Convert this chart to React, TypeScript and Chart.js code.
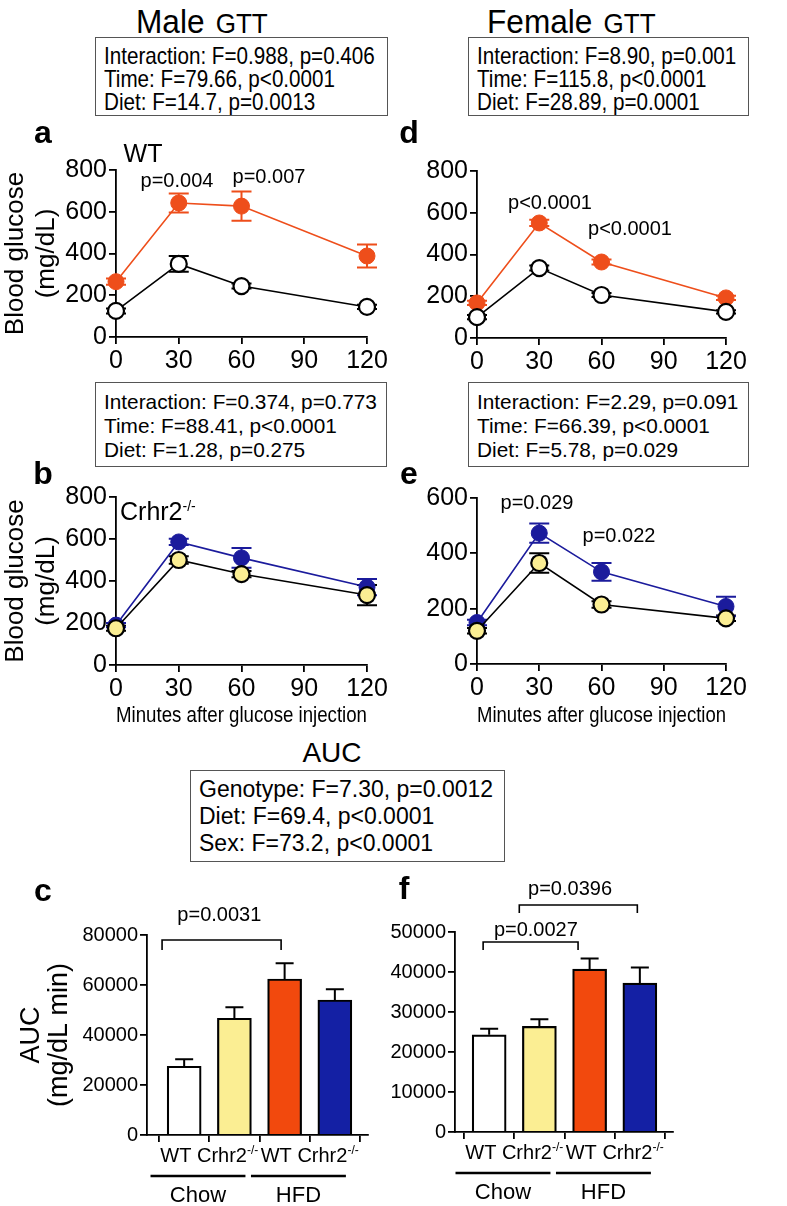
import React, { useEffect, useRef } from "react";
import { Chart, registerables } from "chart.js";
Chart.register(...registerables);

const FONT = "'Liberation Sans', Arial, Helvetica, sans-serif";

// ---------- data ----------
const timePoints = [0, 30, 60, 120];

// a: male WT (Chow vs HFD)
const maleWtChow = [125, 350, 244, 144];
const maleWtChowErr = [12, 38, 12, 10];
const maleWtHfd = [265, 642, 627, 388];
const maleWtHfdErr = [15, 45, 70, 55];
// b: male Crhr2-/-
const maleKoChow = [175, 500, 433, 333];
const maleKoChowErr = [12, 18, 15, 48];
const maleKoHfd = [190, 586, 510, 371];
const maleKoHfdErr = [10, 15, 47, 39];
// d: female WT
const femWtChow = [100, 335, 206, 125];
const femWtChowErr = [10, 12, 10, 8];
const femWtHfd = [168, 551, 364, 192];
const femWtHfdErr = [10, 15, 12, 10];
// e: female Crhr2-/-
const femKoChow = [120, 365, 215, 165];
const femKoChowErr = [10, 35, 12, 10];
const femKoHfd = [150, 473, 333, 208];
const femKoHfdErr = [10, 35, 32, 35];

// c, f: AUC
const aucLabels = ["WT", "Crhr2", "WT", "Crhr2"];
const aucSup = ["", "-/-", "", "-/-"];
const aucPos = [1, 2, 3, 4];
const aucDiet = ["Chow", "HFD"];
const maleAuc = [27500, 46700, 62400, 54000];
const maleAucErr = [2800, 4400, 6300, 4300];
const femAuc = [24300, 26400, 40700, 37200];
const femAucErr = [1500, 1800, 2700, 3900];

// ---------- colours ----------
const ORANGE = "#EE4E1B";
const BLUE = "#1B1B9C";
const YELLOW = "#FBEE93";
const BAR_COLORS = ["#FFFFFF", "#FBEE93", "#F2490D", "#1420A4"];

const gridOpt = {
  display: true,
  drawOnChartArea: false,
  drawTicks: true,
  tickLength: 7,
  color: "#000",
  lineWidth: 1.8,
};
const borderOpt = { display: true, color: "#000", width: 1.8 };

const errorBarPlugin = {
  id: "errbarsLine",
  beforeDatasetsDraw(chart: any) {
    const ctx = chart.ctx;
    const xs = chart.scales.x;
    const ys = chart.scales.y;
    chart.data.datasets.forEach((ds: any) => {
      if (!ds.errors) return;
      ctx.save();
      ctx.strokeStyle = ds.errColor;
      ctx.lineWidth = 2;
      ds.data.forEach((p: any, i: number) => {
        const px = xs.getPixelForValue(p.x);
        const yt = ys.getPixelForValue(p.y + ds.errors[i]);
        const yb = ys.getPixelForValue(p.y - ds.errors[i]);
        ctx.beginPath();
        ctx.moveTo(px, yt);
        ctx.lineTo(px, yb);
        ctx.moveTo(px - 10, yt);
        ctx.lineTo(px + 10, yt);
        ctx.moveTo(px - 10, yb);
        ctx.lineTo(px + 10, yb);
        ctx.stroke();
      });
      ctx.restore();
    });
  },
};

type Series = {
  values: number[];
  err: number[];
  line: string;
  fill: string;
  edge: string;
  edgeWidth: number;
  errColor: string;
};

function lineConfig(p: {
  series: Series[];
  yMax: number;
  yTitle?: string[];
  xTitle?: string;
  xTitleAlign?: string;
  yWidth: number;
  xHeight: number;
  padTop: number;
  padRight: number;
}): any {
  return {
    type: "line",
    data: {
      datasets: p.series.map((s) => ({
        data: timePoints.map((t, i) => ({ x: t, y: s.values[i] })),
        errors: s.err,
        errColor: s.errColor,
        borderColor: s.line,
        borderWidth: 1.6,
        tension: 0,
        pointRadius: 8,
        pointHoverRadius: 8,
        pointBackgroundColor: s.fill,
        pointBorderColor: s.edge,
        pointBorderWidth: s.edgeWidth,
        clip: false,
      })),
    },
    options: {
      animation: false,
      responsive: false,
      devicePixelRatio: 1,
      events: [],
      layout: { padding: { top: p.padTop, right: p.padRight, left: 0, bottom: 0 } },
      plugins: { legend: { display: false }, tooltip: { enabled: false } },
      scales: {
        x: {
          type: "linear",
          min: 0,
          max: 120,
          ticks: {
            stepSize: 30,
            color: "#000",
            font: { family: FONT, size: 25 },
            padding: 2,
            maxRotation: 0,
            autoSkip: false,
          },
          grid: gridOpt,
          border: borderOpt,
          title: p.xTitle
            ? {
                display: true,
                text: p.xTitle,
                align: p.xTitleAlign || "center",
                color: "#000",
                font: { family: FONT, size: 22.6, lineHeight: 1.2 },
                padding: { top: 0, bottom: 1 },
              }
            : { display: false },
          afterFit: (s: any) => {
            s.height = p.xHeight;
          },
        },
        y: {
          type: "linear",
          min: 0,
          max: p.yMax,
          ticks: {
            stepSize: 200,
            color: "#000",
            font: { family: FONT, size: 25 },
            padding: 2,
            callback: (v: any) => String(v),
          },
          grid: gridOpt,
          border: borderOpt,
          title: p.yTitle
            ? {
                display: true,
                text: p.yTitle,
                color: "#000",
                font: { family: FONT, size: 26, lineHeight: 1.2 },
                padding: { top: 0, bottom: 0 },
              }
            : { display: false },
          afterFit: (s: any) => {
            s.width = p.yWidth;
          },
        },
      },
    },
    plugins: [errorBarPlugin],
  };
}

type Bracket = { x1: number; x2: number; y: number; leg: number; text: string; tx: number; ty: number };

function barConfig(p: {
  values: number[];
  err: number[];
  yMax: number;
  yStep: number;
  yTitle?: string[];
  yWidth: number;
  xHeight: number;
  padTop: number;
  padRight: number;
  xMin: number;
  xMax: number;
  brackets: Bracket[];
}): any {
  const annot = {
    id: "barAnnot",
    afterDatasetsDraw(chart: any) {
      const ctx = chart.ctx;
      const xs = chart.scales.x;
      const ys = chart.scales.y;
      // error bars (upper only)
      ctx.save();
      ctx.strokeStyle = "#000";
      ctx.lineWidth = 2;
      p.values.forEach((v, i) => {
        const px = xs.getPixelForValue(aucPos[i]);
        const y0 = ys.getPixelForValue(v);
        const y1 = ys.getPixelForValue(v + p.err[i]);
        ctx.beginPath();
        ctx.moveTo(px, y0);
        ctx.lineTo(px, y1);
        ctx.moveTo(px - 9, y1);
        ctx.lineTo(px + 9, y1);
        ctx.stroke();
      });
      // brackets
      ctx.lineWidth = 1.6;
      ctx.fillStyle = "#000";
      ctx.font = `20px ${FONT}`;
      ctx.textAlign = "center";
      ctx.textBaseline = "middle";
      p.brackets.forEach((b) => {
        const xa = xs.getPixelForValue(b.x1);
        const xb = xs.getPixelForValue(b.x2);
        const yt = ys.getPixelForValue(b.y);
        const yl = ys.getPixelForValue(b.leg);
        ctx.beginPath();
        ctx.moveTo(xa, yl);
        ctx.lineTo(xa, yt);
        ctx.lineTo(xb, yt);
        ctx.lineTo(xb, yl);
        ctx.stroke();
        ctx.fillText(b.text, xs.getPixelForValue(b.tx), ys.getPixelForValue(b.ty));
      });
      // category labels with superscript
      const base = ys.getPixelForValue(0);
      for (let g = 0; g < 2; g++) {
        const i0 = g * 2;
        const i1 = g * 2 + 1;
        const mid = (xs.getPixelForValue(aucPos[i0]) + xs.getPixelForValue(aucPos[i1])) / 2;
        const parts: { t: string; sup: boolean }[] = [
          { t: aucLabels[i0], sup: false },
          { t: aucSup[i0], sup: true },
          { t: " " + aucLabels[i1], sup: false },
          { t: aucSup[i1], sup: true },
        ];
        let total = 0;
        parts.forEach((pt) => {
          ctx.font = pt.sup ? `12px ${FONT}` : `20px ${FONT}`;
          total += ctx.measureText(pt.t).width;
        });
        let cx = mid - total / 2;
        ctx.textAlign = "left";
        ctx.textBaseline = "alphabetic";
        parts.forEach((pt) => {
          ctx.font = pt.sup ? `12px ${FONT}` : `20px ${FONT}`;
          ctx.fillText(pt.t, cx, base + 27 - (pt.sup ? 8 : 0));
          cx += ctx.measureText(pt.t).width;
        });
        // diet group line and label
        const gx1 = xs.getPixelForValue(aucPos[i0] - 0.67);
        const gx2 = xs.getPixelForValue(aucPos[i1] + 0.22);
        ctx.lineWidth = 2.5;
        ctx.beginPath();
        ctx.moveTo(gx1, base + 41);
        ctx.lineTo(gx2, base + 41);
        ctx.stroke();
        ctx.font = `22px ${FONT}`;
        ctx.textAlign = "center";
        ctx.textBaseline = "middle";
        ctx.fillText(aucDiet[g], (gx1 + gx2) / 2, base + 61);
      }
      ctx.restore();
    },
  };
  return {
    type: "bar",
    data: {
      datasets: [
        {
          data: aucPos.map((x, i) => ({ x, y: p.values[i] })),
          backgroundColor: BAR_COLORS,
          borderColor: "#000",
          borderWidth: 2.2,
          borderSkipped: "bottom",
          barThickness: 34,
        },
      ],
    },
    options: {
      animation: false,
      responsive: false,
      devicePixelRatio: 1,
      events: [],
      layout: { padding: { top: p.padTop, right: p.padRight, left: 0, bottom: 0 } },
      plugins: { legend: { display: false }, tooltip: { enabled: false } },
      scales: {
        x: {
          type: "linear",
          min: p.xMin,
          max: p.xMax,
          offset: false,
          ticks: { display: false },
          afterBuildTicks: (s: any) => {
            s.ticks = aucPos.map((v) => ({ value: v }));
          },
          grid: gridOpt,
          border: borderOpt,
          afterFit: (s: any) => {
            s.height = p.xHeight;
          },
        },
        y: {
          type: "linear",
          min: 0,
          max: p.yMax,
          ticks: {
            stepSize: p.yStep,
            color: "#000",
            font: { family: FONT, size: 20 },
            padding: 2,
            callback: (v: any) => String(v),
          },
          grid: gridOpt,
          border: borderOpt,
          title: p.yTitle
            ? {
                display: true,
                text: p.yTitle,
                color: "#000",
                font: { family: FONT, size: 27, lineHeight: 1.05 },
                padding: { top: 17, bottom: 0 },
              }
            : { display: false },
          afterFit: (s: any) => {
            s.width = p.yWidth;
          },
        },
      },
    },
    plugins: [annot],
  };
}

function ChartBox(props: { left: number; top: number; width: number; height: number; build: () => any }) {
  const ref = useRef<HTMLCanvasElement | null>(null);
  useEffect(() => {
    const chart = new Chart(ref.current as HTMLCanvasElement, props.build());
    return () => chart.destroy();
  }, []);
  return (
    <canvas
      ref={ref}
      width={props.width}
      height={props.height}
      style={{ position: "absolute", left: props.left, top: props.top, width: props.width, height: props.height }}
    />
  );
}

function T(props: { x: number; y: number; size: number; bold?: boolean; sx?: number; children: any }) {
  return (
    <div
      style={{
        position: "absolute",
        left: props.x,
        top: props.y,
        transform: `translate(-50%,-50%) scaleX(${props.sx ?? 1})`,
        fontFamily: FONT,
        fontSize: props.size,
        fontWeight: props.bold ? 700 : 400,
        whiteSpace: "nowrap",
        lineHeight: 1,
        color: "#000",
      }}
    >
      {props.children}
    </div>
  );
}

function Box(props: {
  left: number;
  top: number;
  width: number;
  height: number;
  lines: string[];
  size: number;
  lh: number;
  padTop: number;
  padLeft: number;
  sx?: number;
}) {
  return (
    <div
      style={{
        position: "absolute",
        left: props.left,
        top: props.top,
        width: props.width,
        height: props.height,
        border: "1.3px solid #555",
        boxSizing: "border-box",
        fontFamily: FONT,
        fontSize: props.size,
        lineHeight: props.lh + "px",
        paddingTop: props.padTop,
        paddingLeft: props.padLeft,
        color: "#000",
        background: "#fff",
      }}
    >
      {props.lines.map((l, i) => (
        <div
          key={i}
          style={{ whiteSpace: "nowrap", transform: `scaleX(${props.sx ?? 1})`, transformOrigin: "left center" }}
        >
          {l}
        </div>
      ))}
    </div>
  );
}

const chowOpen = (v: number[], e: number[]): Series => ({
  values: v, err: e, line: "#000", fill: "#fff", edge: "#000", edgeWidth: 2.2, errColor: "#000",
});
const hfdOrange = (v: number[], e: number[]): Series => ({
  values: v, err: e, line: ORANGE, fill: ORANGE, edge: ORANGE, edgeWidth: 1, errColor: ORANGE,
});
const chowYellow = (v: number[], e: number[]): Series => ({
  values: v, err: e, line: "#000", fill: YELLOW, edge: "#000", edgeWidth: 2.2, errColor: "#000",
});
const hfdBlue = (v: number[], e: number[]): Series => ({
  values: v, err: e, line: BLUE, fill: BLUE, edge: BLUE, edgeWidth: 1, errColor: BLUE,
});

const titleStyle: any = {
  position: "absolute",
  top: 4,
  fontFamily: FONT,
  fontSize: 34,
  whiteSpace: "nowrap",
  transform: "scaleX(0.93)",
  transformOrigin: "left top",
  lineHeight: 1,
};

export default function App() {
  const crhr = (
    <span>
      Crhr2<sup style={{ fontSize: 14, verticalAlign: 9 }}>-/-</sup>
    </span>
  );
  return (
    <div style={{ position: "absolute", left: 0, top: 0, width: 787, height: 1206, background: "#fff", overflow: "hidden" }}>
      {/* a */}
      <ChartBox
        left={0} top={140} width={390} height={240}
        build={() =>
          lineConfig({
            series: [chowOpen(maleWtChow, maleWtChowErr), hfdOrange(maleWtHfd, maleWtHfdErr)],
            yMax: 800, yTitle: ["Blood glucose", "(mg/dL)"], yWidth: 116, xHeight: 43, padTop: 30, padRight: 23,
          })
        }
      />
      {/* d */}
      <ChartBox
        left={390} top={140} width={397} height={240}
        build={() =>
          lineConfig({
            series: [chowOpen(femWtChow, femWtChowErr), hfdOrange(femWtHfd, femWtHfdErr)],
            yMax: 800, yWidth: 87, xHeight: 42, padTop: 31, padRight: 61,
          })
        }
      />
      {/* b */}
      <ChartBox
        left={0} top={480} width={390} height={250}
        build={() =>
          lineConfig({
            series: [chowYellow(maleKoChow, maleKoChowErr), hfdBlue(maleKoHfd, maleKoHfdErr)],
            yMax: 800, yTitle: ["Blood glucose", "(mg/dL)"], xTitle: "Minutes after glucose injection",
            xTitleAlign: "center", yWidth: 116, xHeight: 65, padTop: 17, padRight: 23,
          })
        }
      />
      {/* e */}
      <ChartBox
        left={390} top={480} width={397} height={250}
        build={() =>
          lineConfig({
            series: [chowYellow(femKoChow, femKoChowErr), hfdBlue(femKoHfd, femKoHfdErr)],
            yMax: 600, xTitle: "Minutes after glucose injection", xTitleAlign: "start",
            yWidth: 87, xHeight: 66, padTop: 18, padRight: 61,
          })
        }
      />
      {/* c */}
      <ChartBox
        left={0} top={860} width={390} height={346}
        build={() =>
          barConfig({
            values: maleAuc, err: maleAucErr, yMax: 80000, yStep: 20000, yTitle: ["AUC", "(mg/dL min)"],
            yWidth: 147, xHeight: 71, padTop: 75, padRight: 22, xMin: 0.26, xMax: 4.66,
            brackets: [{ x1: 0.56, x2: 2.93, y: 78000, leg: 74000, text: "p=0.0031", tx: 1.7, ty: 88000 }],
          })
        }
      />
      {/* f */}
      <ChartBox
        left={390} top={860} width={397} height={346}
        build={() =>
          barConfig({
            values: femAuc, err: femAucErr, yMax: 50000, yStep: 10000,
            yWidth: 65, xHeight: 74, padTop: 72, padRight: 114, xMin: 0.32, xMax: 4.66,
            brackets: [
              { x1: 0.88, x2: 2.77, y: 47500, leg: 45500, text: "p=0.0027", tx: 1.93, ty: 50500 },
              { x1: 1.6, x2: 3.95, y: 56750, leg: 54750, text: "p=0.0396", tx: 2.61, ty: 60750 },
            ],
          })
        }
      />

      {/* titles */}
      <div style={{ ...titleStyle, left: 136 }}>
        <span>Male</span>
        <span style={{ marginLeft: 12, fontSize: 28 }}>GTT</span>
      </div>
      <div style={{ ...titleStyle, left: 487 }}>
        <span>Female</span>
        <span style={{ marginLeft: 12, fontSize: 28 }}>GTT</span>
      </div>

      <Box left={95} top={37} width={293} height={79} size={24} lh={23} padTop={6} padLeft={8} sx={0.86}
        lines={["Interaction: F=0.988, p=0.406", "Time: F=79.66, p<0.0001", "Diet: F=14.7, p=0.0013"]} />
      <Box left={468} top={37} width={281} height={79} size={24} lh={23} padTop={6} padLeft={8} sx={0.86}
        lines={["Interaction: F=8.90, p=0.001", "Time: F=115.8, p<0.0001", "Diet: F=28.89, p=0.0001"]} />
      <Box left={95} top={382} width={292} height={85} size={20.8} lh={24} padTop={7} padLeft={8}
        lines={["Interaction: F=0.374, p=0.773", "Time: F=88.41, p<0.0001", "Diet: F=1.28, p=0.275"]} />
      <Box left={468} top={382} width={281} height={85} size={20.8} lh={24} padTop={7} padLeft={8}
        lines={["Interaction: F=2.29, p=0.091", "Time: F=66.39, p<0.0001", "Diet: F=5.78, p=0.029"]} />
      <Box left={190} top={770} width={315} height={92} size={23} lh={27} padTop={5} padLeft={8}
        lines={["Genotype: F=7.30, p=0.0012", "Diet: F=69.4, p<0.0001", "Sex: F=73.2, p<0.0001"]} />

      <T x={332} y={753} size={28}>AUC</T>

      {/* panel letters */}
      <T x={43} y={132} size={32} bold>a</T>
      <T x={409} y={132} size={32} bold>d</T>
      <T x={43} y={473} size={32} bold>b</T>
      <T x={409} y={473} size={32} bold>e</T>
      <T x={43} y={890} size={32} bold>c</T>
      <T x={404} y={888} size={32} bold>f</T>

      {/* group labels */}
      <T x={143} y={153} size={25}>WT</T>
      <div style={{ position: "absolute", left: 120, top: 499, fontFamily: FONT, fontSize: 25, lineHeight: 1, whiteSpace: "nowrap" }}>{crhr}</div>

      {/* p-values */}
      <T x={177} y={180} size={20}>p=0.004</T>
      <T x={269} y={176} size={20}>p=0.007</T>
      <T x={550} y={202} size={20}>p&lt;0.0001</T>
      <T x={630} y={228} size={20}>p&lt;0.0001</T>
      <T x={537} y={502} size={20}>p=0.029</T>
      <T x={619} y={535} size={20}>p=0.022</T>
    </div>
  );
}
